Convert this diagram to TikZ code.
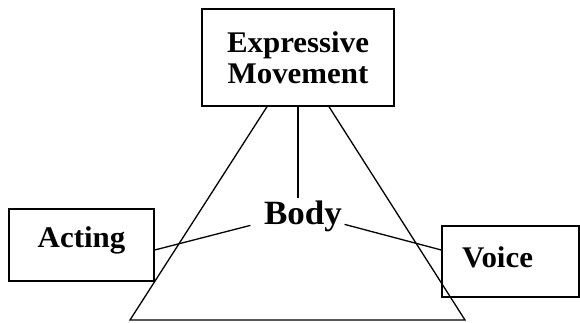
\documentclass[tikz,border=0pt]{standalone}
\usepackage{fontspec}
\setmainfont{Liberation Serif}[FakeStretch=1.03]
\tikzset{
  box/.style={draw,line width=1.4pt,rectangle,font=\bfseries\fontsize{30}{31}\selectfont},
}
\begin{document}
\begin{tikzpicture}[x=1pt,y=-1pt,line width=1.3pt]
\useasboundingbox (0,0) rectangle (580,322);
\node[box,minimum width=192pt,minimum height=97pt,align=center] (move) at (298,57.5) {Expressive\\Movement};
\node[box,minimum width=145pt,minimum height=72pt,text depth=15pt] (act) at (81.5,245) {Acting};
\node[box,minimum width=137pt,minimum height=71pt,inner xsep=20pt,text width=97pt,align=left,text depth=8pt] (voice) at (510.5,261.5) {Voice};
\node[font=\bfseries\fontsize{34}{38}\selectfont,inner sep=2pt,anchor=base] (body) at (303,224) {Body};
% triangle
\draw ([xshift=-31pt]move.south) -- (130,320) -- (465,320) -- ([xshift=31pt]move.south);
\draw (move.south) -- (move.south |- body.north);
\draw ([yshift=-5pt]act.east) -- ([xshift=-11pt,yshift=-9.5pt]body.west);
\draw ([yshift=-8.5pt]body.east) -- ([yshift=11.5pt]voice.west);
\end{tikzpicture}
\end{document}
